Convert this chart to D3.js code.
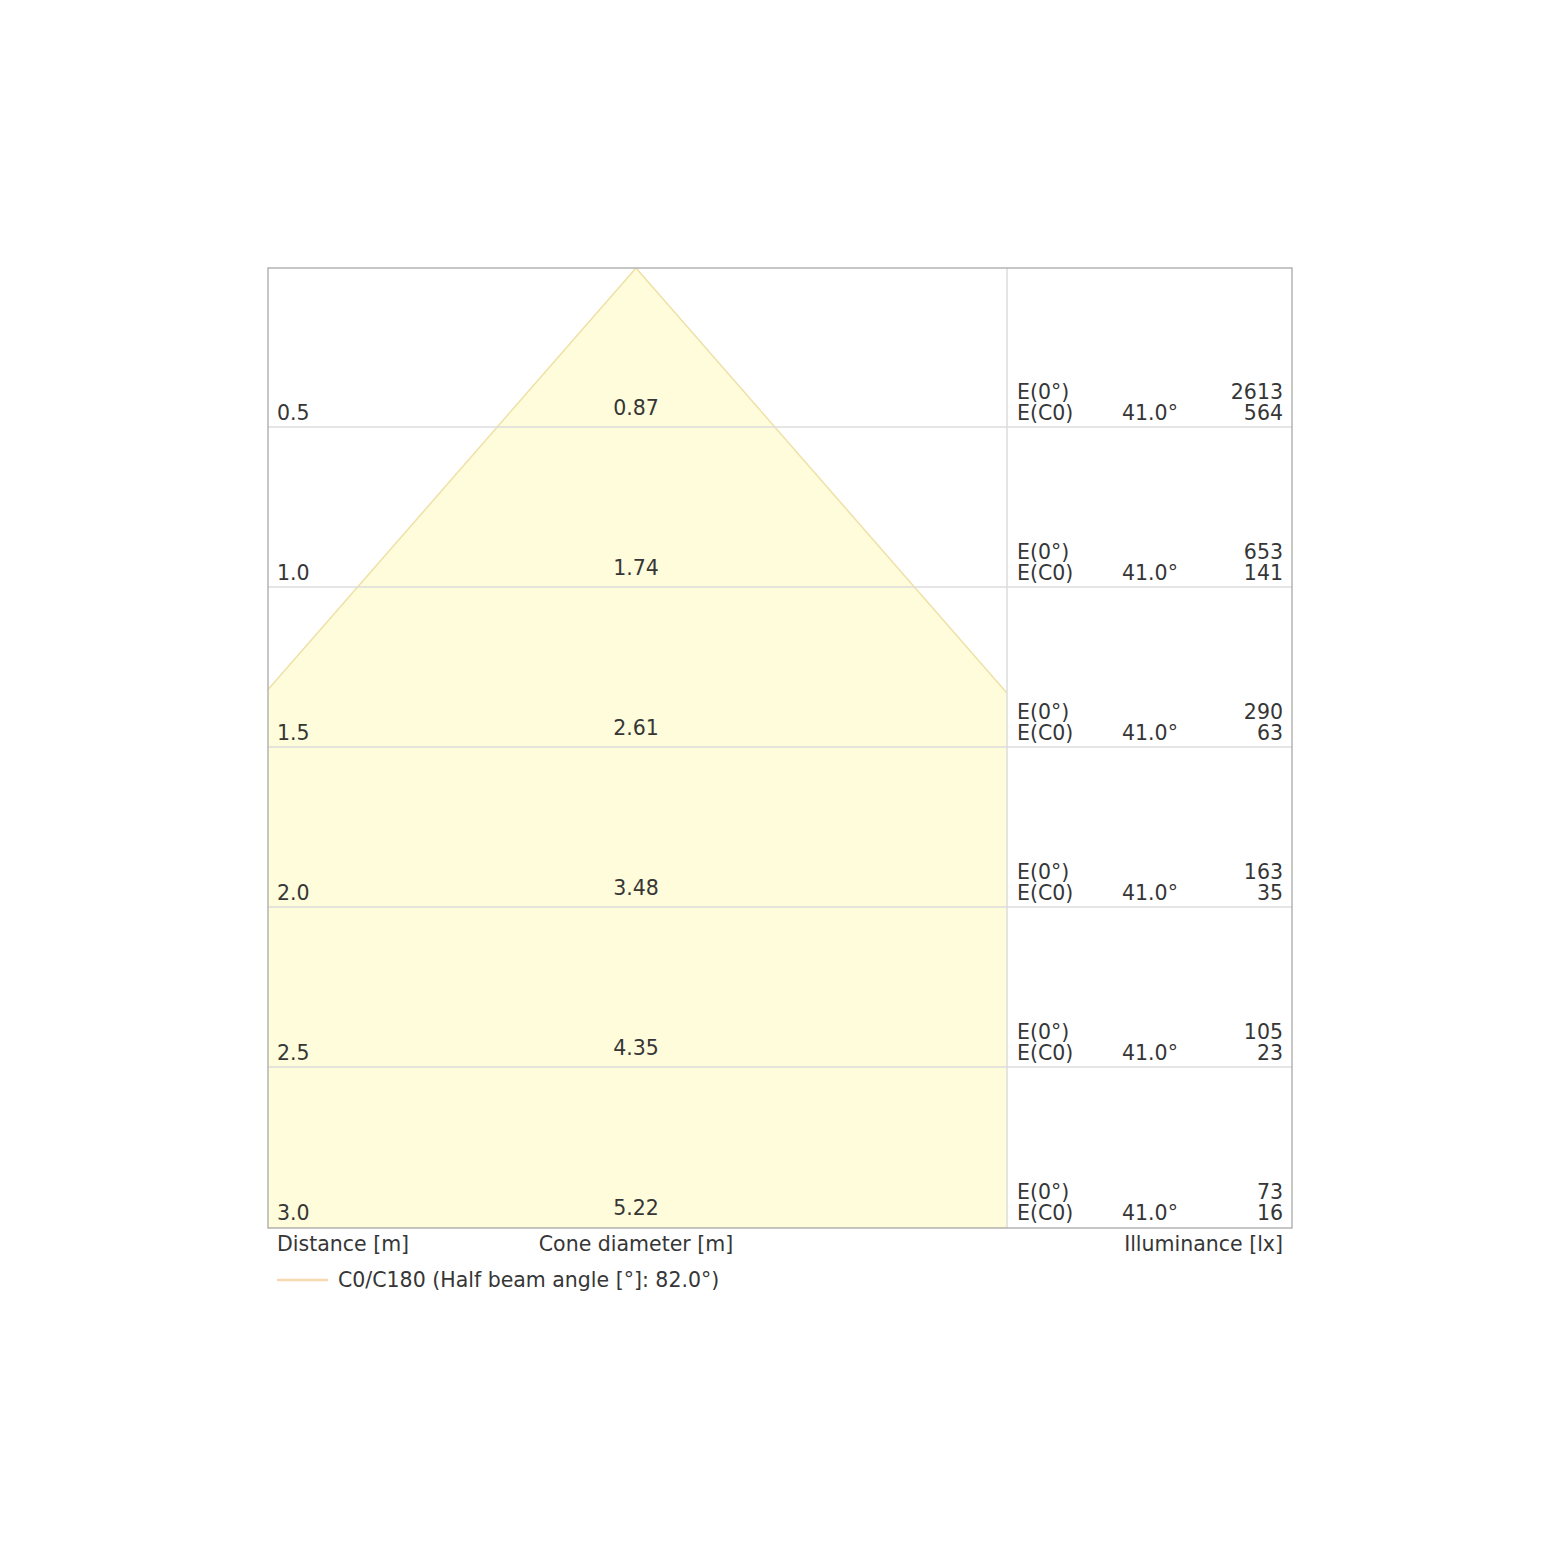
<!DOCTYPE html>
<html>
<head>
<meta charset="utf-8">
<script src="https://cdn.jsdelivr.net/npm/d3@7"></script>
<style>
  html, body { margin: 0; padding: 0; background: #fff; }
  svg { display: block; }
  text { font-family: "DejaVu Sans", sans-serif; font-size: 20.5px; fill: #363636; }
</style>
</head>
<body>
<svg id="chart" width="1560" height="1561"></svg>
<script>
const distances = [0.5, 1.0, 1.5, 2.0, 2.5, 3.0];
const coneDiameters = [0.87, 1.74, 2.61, 3.48, 4.35, 5.22];
const illumCenter = [2613, 653, 290, 163, 105, 73];
const illumC0 = [564, 141, 63, 35, 23, 16];
const halfAngles = [41.0, 41.0, 41.0, 41.0, 41.0, 41.0];
const legendLabel = "C0/C180 (Half beam angle [°]: 82.0°)";

const LEFT = 268, RIGHT = 1292, TOP = 268, BOTTOM = 1228, DIVIDER = 1007;
const CENTER = 636, PX_PER_M = 321;

const svg = d3.select("#chart");

const y = d3.scaleLinear().domain([0, 3]).range([TOP, BOTTOM]);
const x = d3.scaleLinear().domain([-1, 1]).range([CENTER - PX_PER_M, CENTER + PX_PER_M]);

// clip the cone to the diagram part (left of the divider)
svg.append("defs").append("clipPath").attr("id", "coneClip")
  .append("rect")
  .attr("x", LEFT).attr("y", TOP)
  .attr("width", DIVIDER - LEFT).attr("height", BOTTOM - TOP);

// cone from apex through the last row, half width = diameter / 2
const last = distances.length - 1;
const halfW = coneDiameters[last] / 2;
const conePts = [[0, 0], [-halfW, distances[last]], [halfW, distances[last]]];

const coneG = svg.append("g").attr("clip-path", "url(#coneClip)");
coneG.append("path")
  .attr("d", d3.line().x(d => x(d[0])).y(d => y(d[1]))(conePts) + "Z")
  .attr("fill", "#fefcdb")
  .attr("stroke", "#efe0a6")
  .attr("stroke-width", 1.5);

// row lines
svg.append("g").selectAll("line")
  .data(distances.slice(0, -1))
  .join("line")
  .attr("x1", LEFT).attr("x2", RIGHT)
  .attr("y1", d => y(d) - 1).attr("y2", d => y(d) - 1)
  .attr("stroke", "#dcdcdc")
  .attr("stroke-width", 1.5);

// divider and frame
svg.append("line")
  .attr("x1", DIVIDER).attr("x2", DIVIDER)
  .attr("y1", TOP).attr("y2", BOTTOM)
  .attr("stroke", "#dcdcdc").attr("stroke-width", 1.5);

svg.append("rect")
  .attr("x", LEFT).attr("y", TOP)
  .attr("width", RIGHT - LEFT).attr("height", BOTTOM - TOP)
  .attr("fill", "none")
  .attr("stroke", "#b4b4b4")
  .attr("stroke-width", 1.5);

// row texts
const rows = svg.append("g").selectAll("g")
  .data(distances.map((d, i) => ({ d, i })))
  .join("g");

rows.append("text")
  .attr("x", LEFT + 9)
  .attr("y", r => y(r.d) - 8)
  .text(r => r.d.toFixed(1));

rows.append("text")
  .attr("x", CENTER)
  .attr("y", r => y(r.d) - 13)
  .attr("text-anchor", "middle")
  .text(r => coneDiameters[r.i].toFixed(2));

rows.append("text")
  .attr("x", DIVIDER + 10)
  .attr("y", r => y(r.d) - 29)
  .text("E(0°)");

rows.append("text")
  .attr("x", DIVIDER + 10)
  .attr("y", r => y(r.d) - 8)
  .text("E(C0)");

rows.append("text")
  .attr("x", 1122)
  .attr("y", r => y(r.d) - 8)
  .text(r => halfAngles[r.i].toFixed(1) + "°");

rows.append("text")
  .attr("x", RIGHT - 9)
  .attr("y", r => y(r.d) - 29)
  .attr("text-anchor", "end")
  .text(r => illumCenter[r.i]);

rows.append("text")
  .attr("x", RIGHT - 9)
  .attr("y", r => y(r.d) - 8)
  .attr("text-anchor", "end")
  .text(r => illumC0[r.i]);

// column titles
svg.append("text").attr("x", LEFT + 9).attr("y", BOTTOM + 23).text("Distance [m]");
svg.append("text").attr("x", CENTER).attr("y", BOTTOM + 23)
  .attr("text-anchor", "middle").text("Cone diameter [m]");
svg.append("text").attr("x", RIGHT - 9).attr("y", BOTTOM + 23)
  .attr("text-anchor", "end").text("Illuminance [lx]");

// legend
svg.append("line")
  .attr("x1", 277).attr("x2", 328)
  .attr("y1", 1280).attr("y2", 1280)
  .attr("stroke", "#f8d8ae").attr("stroke-width", 2.5);
svg.append("text").attr("x", 338).attr("y", 1287).text(legendLabel);
</script>
</body>
</html>
